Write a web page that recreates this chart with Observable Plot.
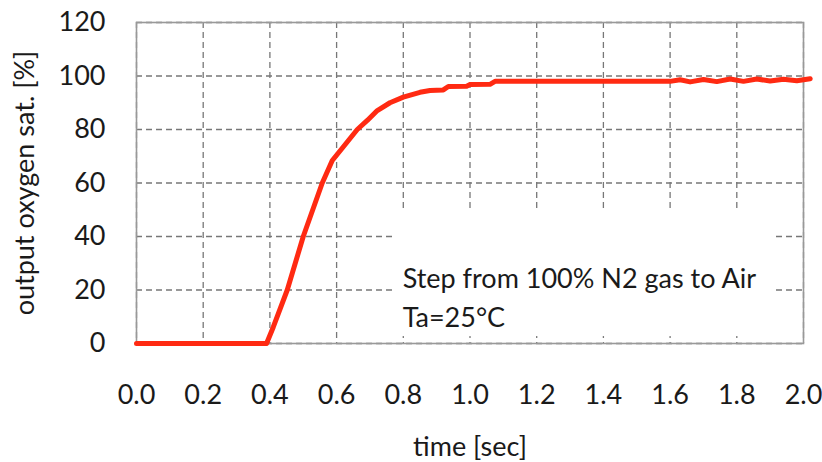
<!DOCTYPE html>
<html>
<head>
<meta charset="utf-8">
<script src="https://cdn.jsdelivr.net/npm/d3@7"></script>
<script src="https://cdn.jsdelivr.net/npm/@observablehq/plot@0.6"></script>
<style>
  html, body { margin: 0; padding: 0; background: #fff; }
  #chart svg { display: block; }
</style>
</head>
<body>
<div id="chart"></div>
<script>
const timeSec = [0.00, 0.39, 0.41, 0.452, 0.50, 0.557, 0.587, 0.627, 0.662, 0.692, 0.722, 0.76, 0.80, 0.85, 0.88, 0.92, 0.935, 0.99, 1.00, 1.06, 1.075, 1.20, 1.40, 1.60, 1.63, 1.66, 1.70, 1.74, 1.78, 1.82, 1.86, 1.90, 1.94, 1.98, 2.02];
const oxygenSat = [0.0, 0.0, 6.1, 20.0, 40.0, 60.0, 68.4, 74.6, 80.0, 83.4, 87.1, 90.0, 92.1, 93.9, 94.6, 94.8, 96.1, 96.2, 96.8, 96.9, 98.0, 98.0, 98.0, 98.0, 98.6, 97.8, 98.7, 97.9, 98.9, 98.0, 98.9, 98.1, 98.8, 98.2, 99.0];
const xTicks = [0.0, 0.2, 0.4, 0.6, 0.8, 1.0, 1.2, 1.4, 1.6, 1.8, 2.0];
const yTicks = [0, 20, 40, 60, 80, 100, 120];
const noteLines = ["Step from 100% N2 gas to Air", "Ta=25°C"];
const noteLineY = [20.9, 6.0];
const noteBox = {x1: 0.774, x2: 1.907, y1: 2.6, y2: 49.3};

const data = timeSec.map((t, i) => ({t, v: oxygenSat[i]}));
const notes = noteLines.map((s, i) => ({s, y: noteLineY[i]}));

const chart = Plot.plot({
  width: 822,
  height: 462,
  marginLeft: 136,
  marginRight: 19,
  marginTop: 22,
  marginBottom: 119,
  style: {fontFamily: "Lato", fontSize: "27px", color: "#1a1a1a", background: "#fff"},
  x: {domain: [0, 2]},
  y: {domain: [0, 120]},
  marks: [
    Plot.gridY(yTicks, {stroke: "#777", strokeOpacity: 1, strokeWidth: 1.3, strokeDasharray: "6,4"}),
    Plot.gridX(xTicks, {stroke: "#777", strokeOpacity: 1, strokeWidth: 1.3, strokeDasharray: "6,4"}),
    Plot.rect([noteBox], {x1: "x1", x2: "x2", y1: "y1", y2: "y2", fill: "#fff"}),
    Plot.frame({stroke: "#999", strokeWidth: 1.6}),
    Plot.axisY(yTicks, {tickSize: 0, tickPadding: 31, fontSize: 27, label: null}),
    Plot.text(["output oxygen sat. [%]"], {frameAnchor: "left", textAnchor: "middle", lineAnchor: "middle", rotate: -90, dx: -111, fontSize: 27, fill: "#1a1a1a"}),
    Plot.axisX(xTicks, {tickSize: 0, tickPadding: 41, fontSize: 27, tickFormat: d => d.toFixed(1), label: "time [sec]", labelAnchor: "center", labelArrow: "none", labelOffset: 112}),
    Plot.line(data, {x: "t", y: "v", stroke: "#ff2a12", strokeWidth: 5, strokeLinecap: "round", strokeLinejoin: "round"}),
    Plot.text(notes, {x: () => noteBox.x1, y: "y", text: "s", textAnchor: "start", lineAnchor: "bottom", fontSize: 27, fill: "#1a1a1a", dx: 8})
  ]
});
document.getElementById("chart").appendChild(chart);
</script>
</body>
</html>
